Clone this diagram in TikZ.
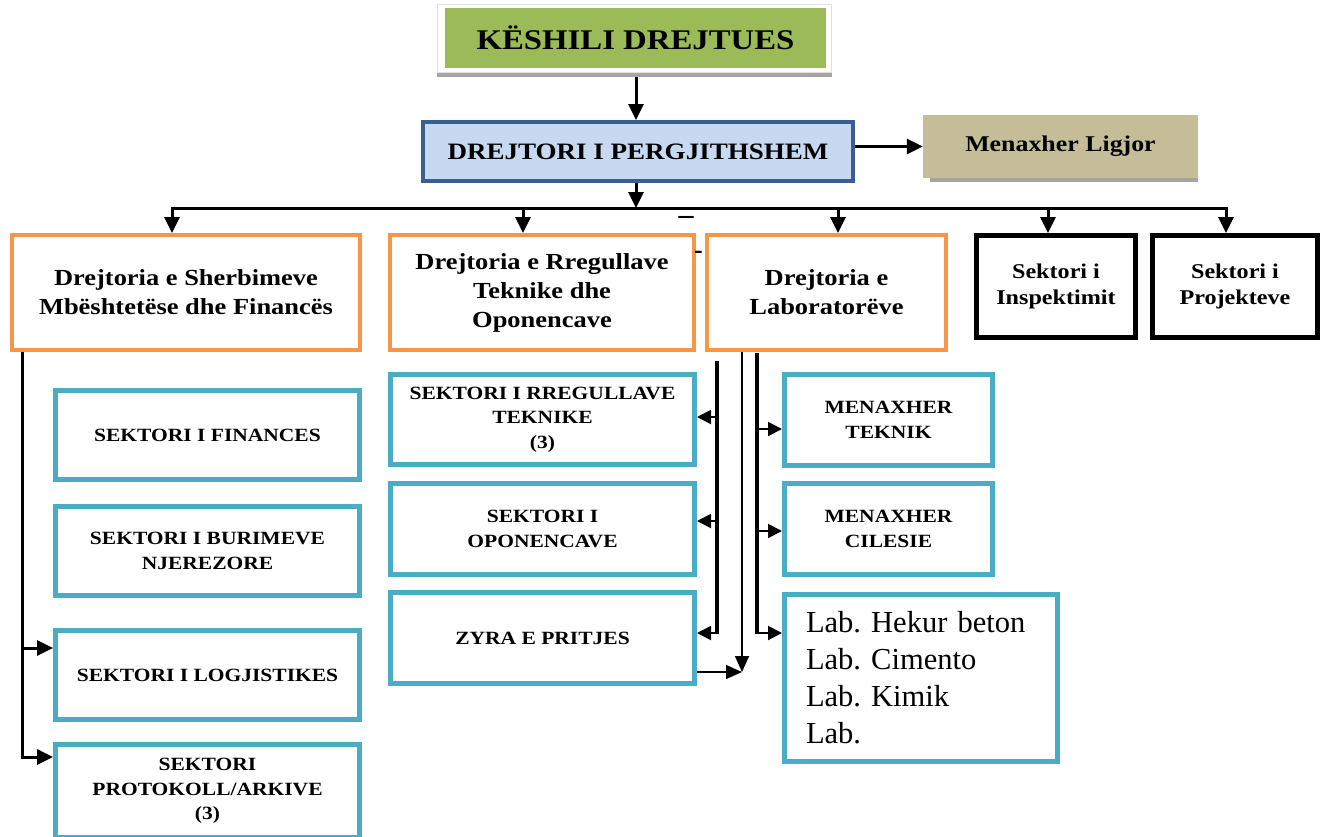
\documentclass[tikz,border=0pt]{standalone}
\usepackage{fontspec}
\setmainfont{Liberation Serif}
\newfontfamily\garfont[FakeStretch=1.15]{Liberation Serif}
\usetikzlibrary{arrows.meta}
\definecolor{greenC}{HTML}{9BBB59}
\definecolor{lblueC}{HTML}{C6D9F1}
\definecolor{dblueC}{HTML}{3A5F8E}
\definecolor{tanC}{HTML}{C4BD97}
\definecolor{orangeC}{HTML}{F79646}
\definecolor{tealC}{HTML}{4BACC6}
\definecolor{shadowC}{HTML}{A5A5A5}
\begin{document}
\begin{tikzpicture}[x=1pt,y=-1pt,
  box/.style={rectangle, inner sep=2pt, align=center, text=black},
  orangebox/.style={box, draw=orangeC, line width=4pt, fill=white, font=\garfont\fontsize{23}{29}\selectfont\bfseries},
  bluebox/.style={box, draw=tealC, line width=5pt, fill=white, font=\garfont\fontsize{18.7}{24.5}\selectfont\bfseries},
  blackbox/.style={box, draw=black, line width=5pt, fill=white, font=\garfont\fontsize{21}{26}\selectfont\bfseries},
  arr/.style={line width=3pt, -{Triangle[length=16pt,width=15pt]}},
  arrs/.style={line width=2pt, -{Triangle[length=14pt,width=14pt]}},
  thickline/.style={line width=4pt},
]
\useasboundingbox (0,0) rectangle (1323,836);

% top
\fill[shadowC] (437,71) rectangle (832,77);
\node[box, draw=black!12, line width=0.8pt, fill=white, minimum width=394, minimum height=68] (keshframe) at (634.5,38) {};
\node[box, fill=greenC, minimum width=381, minimum height=60, font=\garfont\fontsize{28.5}{30}\selectfont\bfseries] (keshili) at (635.5,38) {KËSHILI DREJTUES};

\node[box, fill=lblueC, draw=dblueC, line width=4pt, minimum width=430, minimum height=59, font=\garfont\fontsize{23.5}{25}\selectfont\bfseries] (drejtori) at (638,151.5) {DREJTORI I PERGJITHSHEM};

\fill[shadowC] (930,176) rectangle (1198,182);
\node[box, fill=tanC, minimum width=275, minimum height=63, font=\garfont\fontsize{22.5}{24}\selectfont\bfseries] (ligjor) at (1060.5,146.5) {Menaxher Ligjor};

\coordinate (kd) at (636,77);
\draw[arr] (kd) -- (kd |- drejtori.north);
\draw[arr] (drejtori.east |- ligjor.west) -- (ligjor.west);

% second row
\node[orangebox, minimum width=348, minimum height=115] (d1) at (186,292.5) {Drejtoria e Sherbimeve\\Mbështetëse dhe Financës};
\node[orangebox, minimum width=304, minimum height=115] (d2) at (542,292.5) {Drejtoria e Rregullave\\Teknike dhe\\Oponencave};
\node[orangebox, minimum width=239, minimum height=115] (d3) at (826.5,292.5) {Drejtoria e\\Laboratorëve};
\node[blackbox, minimum width=159, minimum height=102] (s1) at (1056,286.5) {Sektori i\\Inspektimit};
\node[blackbox, minimum width=165, minimum height=102] (s2) at (1235,286.5) {Sektori i\\Projekteve};

% bus
\coordinate (bus) at (636,208);
\coordinate (b1) at (172,208);
\coordinate (b2) at (523,208);
\coordinate (b3) at (838,208);
\coordinate (b4) at (1048,208);
\coordinate (b5) at (1226,208);
\draw[arr] (bus |- drejtori.south) -- (bus);
\draw[line width=3pt] ([xshift=-1.5pt]b1) -- ([xshift=1.5pt]b5);
\draw[arr] (b1) -- (b1 |- d1.north);
\draw[arr] (b2) -- (b2 |- d2.north);
\draw[arr] (b3) -- (b3 |- d3.north);
\draw[arr] (b4) -- (b4 |- s1.north);
\draw[arr] (b5) -- (b5 |- s2.north);

\node[font=\fontsize{30}{30}\selectfont\bfseries, inner sep=0pt] (dashA) at (686,220) {–};
\node[font=\fontsize{26}{26}\selectfont\bfseries, inner sep=0pt] (dashB) at (698.5,255) {-};

% left column
\node[bluebox, minimum width=304, minimum height=89] (fin) at (207.5,435) {SEKTORI I FINANCES};
\node[bluebox, minimum width=304, minimum height=89] (bur) at (207.5,551) {SEKTORI I BURIMEVE\\NJEREZORE};
\node[bluebox, minimum width=304, minimum height=89] (logj) at (207.5,675) {SEKTORI I LOGJISTIKES};
\node[bluebox, minimum width=304, minimum height=93] (prot) at (207.5,791) {SEKTORI\\PROTOKOLL/ARKIVE\\(3)};

\coordinate (lt) at (22,352);
\coordinate (la1) at (22,648);
\coordinate (la2) at (22,757);
\draw[line width=3pt] (lt) -- (la2);
\draw[arr] (la1) -- (la1 -| logj.west);
\draw[arr] ([xshift=-1.5pt]la2) -- (la2 -| prot.west);

% middle column
\node[bluebox, minimum width=304, minimum height=90] (rreg) at (542.5,419.5) {SEKTORI I RREGULLAVE\\TEKNIKE\\(3)};
\node[bluebox, minimum width=304, minimum height=91] (opon) at (542.5,529) {SEKTORI I\\OPONENCAVE};
\node[bluebox, minimum width=304, minimum height=91] (zyra) at (542.5,638) {ZYRA E PRITJES};

% right column
\node[bluebox, minimum width=208, minimum height=91] (tek) at (888.5,420) {MENAXHER\\TEKNIK};
\node[bluebox, minimum width=208, minimum height=91] (cil) at (888.5,529) {MENAXHER\\CILESIE};
\node[bluebox, minimum width=273, minimum height=167, align=left, text width=230pt, font=\frenchspacing\fontsize{30.5}{37}\selectfont] (lab) at (921,678) {Lab. Hekur beton\\Lab. Cimento\\Lab. Kimik\\Lab.};

% middle connectors
\coordinate (ml1) at (717,361);
\coordinate (ml2) at (717,634);
\draw[thickline] (ml1) -- (ml2);
\coordinate (ma1) at (717,417);
\coordinate (ma2) at (717,521);
\coordinate (ma3) at (717,633);
\draw[arrs] (ma1) -- (ma1 -| rreg.east);
\draw[arrs] (ma2) -- (ma2 -| opon.east);
\draw[arrs] (ma3) -- (ma3 -| zyra.east);

\coordinate (tm) at (742,672);
\draw[line width=1.5pt, -{Triangle[length=16pt,width=14pt]}] (tm |- d3.south) -- (tm);
\draw[line width=1.5pt, -{Triangle[length=16pt,width=14pt]}] (tm -| zyra.east) -- (tm);

\coordinate (mr1) at (757,353);
\coordinate (mr2) at (757,634);
\draw[thickline] (mr1) -- (mr2);
\coordinate (mb1) at (757,429);
\coordinate (mb2) at (757,531);
\coordinate (mb3) at (757,633);
\draw[arrs] (mb1) -- (mb1 -| tek.west);
\draw[arrs] (mb2) -- (mb2 -| cil.west);
\draw[arrs] (mb3) -- (mb3 -| lab.west);
\end{tikzpicture}
\end{document}
